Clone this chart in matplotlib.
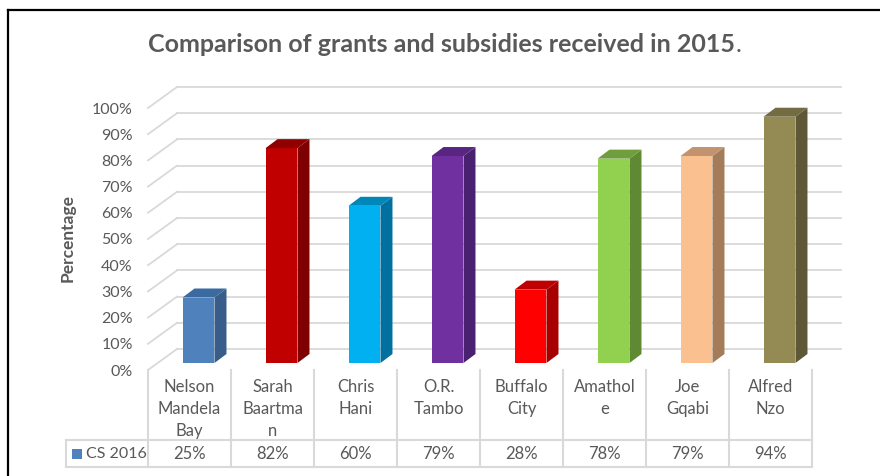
import matplotlib
matplotlib.use("Agg")
import matplotlib.pyplot as plt
import matplotlib.transforms as mtransforms
from matplotlib.patches import Polygon, Rectangle
from matplotlib.lines import Line2D

plt.rcParams['font.family'] = ['Lato', 'DejaVu Sans']

# ---------------- data ----------------
categories = ["Nelson\nMandela\nBay", "Sarah\nBaartma\nn", "Chris\nHani", "O.R.\nTambo",
              "Buffalo\nCity", "Amathol\ne", "Joe\nGqabi", "Alfred\nNzo"]
values = [0.25, 0.82, 0.60, 0.79, 0.28, 0.78, 0.79, 0.94]
series_name = "CS 2016"
yticks = [0.0, 0.1, 0.2, 0.3, 0.4, 0.5, 0.6, 0.7, 0.8, 0.9, 1.0]
ytick_labels = ["0%", "10%", "20%", "30%", "40%", "50%", "60%", "70%", "80%", "90%", "100%"]
front_colors = ["#4f81bd", "#c00000", "#00b0f0", "#7030a0", "#ff0000", "#92d050", "#fac090", "#948a54"]
side_colors = ["#385d8a", "#7f0000", "#0070a0", "#4a2070", "#a80000", "#5f8a33", "#a47c5a", "#5f5836"]
top_colors = ["#3b6aa0", "#900000", "#0086b8", "#582680", "#c00000", "#6f9e3c", "#c39370", "#736b42"]
legend_color = "#4f81bd"

W, H = 880, 476
DPI = 100
TXT = "#595959"
GRID = "#d9d9d9"

fig = plt.figure(figsize=(W / DPI, H / DPI), dpi=DPI)
fig.patch.set_facecolor("white")

# axes = front plane of the 3D box
ax_left, ax_right = 148, 812
ax_bottom_top, ax_top_top = 370, 108  # pixel rows from top
ax = fig.add_axes([ax_left / W, (H - ax_bottom_top) / H, (ax_right - ax_left) / W,
                   (ax_bottom_top - ax_top_top) / H])
n = len(categories)
ax.set_xlim(-0.5, n - 0.5)
ax.set_ylim(0, 1)
ax.patch.set_alpha(0)
for s in ax.spines.values():
    s.set_visible(False)
ax.set_xticks([])
ax.set_yticks(yticks)
ax.set_yticklabels(ytick_labels, color=TXT, fontsize=11.5)
ax.tick_params(axis='y', length=0, pad=11)

# pixel transform (y measured from top)
pix = mtransforms.Affine2D().scale(1, -1).translate(0, H)

def off(dx, dy):
    return mtransforms.offset_copy(ax.transData, fig=fig, x=dx, y=dy, units='dots')

# back wall offset
BDX, BDY = 29, 21
back = off(BDX, BDY)
for t in yticks:
    ax.add_line(Line2D([-0.5, n - 0.5], [t, t], transform=back, color=GRID, lw=1.3, clip_on=False, zorder=1))
    # diagonal from front left to back wall
    p0 = ax.transData.transform((-0.5, t))
    ax.add_line(Line2D([p0[0], p0[0] + BDX], [p0[1], p0[1] + BDY], transform=mtransforms.IdentityTransform(),
                       color=GRID, lw=1.3, clip_on=False, zorder=1))

# bars
FDX, FDY = 9, 7      # front face offset
DDX, DDY = 12, 9     # bar depth
sx = ax.transData.transform((1, 0))[0] - ax.transData.transform((0, 0))[0]
sy = ax.transData.transform((0, 1))[1] - ax.transData.transform((0, 0))[1]
ddx, ddy = DDX / sx, DDY / sy
front = off(FDX, FDY)
bw = 0.385
ax.bar(range(n), values, width=bw, color=front_colors, transform=front, zorder=3, clip_on=False)
for i, v in enumerate(values):
    xl, xr = i - bw / 2, i + bw / 2
    ax.add_patch(Polygon([(xr, 0), (xr, v), (xr + ddx, v + ddy), (xr + ddx, ddy)], closed=True,
                         facecolor=side_colors[i], edgecolor='none', transform=front, zorder=3, clip_on=False))
    ax.add_patch(Polygon([(xl, v), (xr, v), (xr + ddx, v + ddy), (xl + ddx, v + ddy)], closed=True,
                         facecolor=top_colors[i], edgecolor='none', transform=front, zorder=3, clip_on=False))

# data table
xpix = mtransforms.blended_transform_factory(ax.transData, pix)
row1_top, row2_top, row2_bot = 370, 440, 467
legend_left = 66
TL = 1.5
for b in [i - 0.5 for i in range(n + 1)]:
    ax.add_line(Line2D([b, b], [row1_top, row2_bot], transform=xpix, color=GRID, lw=TL, clip_on=False))
fig.add_artist(Line2D([legend_left, ax_right], [row2_top, row2_top], transform=pix, color=GRID, lw=TL))
fig.add_artist(Line2D([legend_left, ax_right], [row2_bot, row2_bot], transform=pix, color=GRID, lw=TL))
fig.add_artist(Line2D([legend_left, legend_left], [row2_top, row2_bot], transform=pix, color=GRID, lw=TL))

for i, c in enumerate(categories):
    ax.text(i, 379, c, transform=xpix, ha='center', va='top', fontsize=12, color=TXT,
            linespacing=1.47, clip_on=False)
    ax.text(i, 454, f"{round(values[i] * 100)}%", transform=xpix, ha='center', va='center',
            fontsize=12, color=TXT, clip_on=False)

fig.add_artist(Rectangle((72, 459), 10, -10, transform=pix, facecolor=legend_color, edgecolor='none'))
fig.text(86, 454, series_name, transform=pix, ha='left', va='center', fontsize=11.5, color=TXT)

# axis title
fig.text(68, 238, "Percentage", transform=pix, rotation=90, ha='center', va='center',
         fontsize=12.5, fontweight='bold', color=TXT)

# chart title
t1 = fig.text(148, 45, "Comparison of grants and subsidies received in 2015", transform=pix,
              ha='left', va='center', fontsize=18, fontweight='bold', color=TXT)
fig.canvas.draw()
bb = t1.get_window_extent()
fig.text(bb.x1 + 1, H - 45, ".", transform=mtransforms.IdentityTransform(), ha='left', va='center',
         fontsize=18, color=TXT)

# outer border (left and top visible)
fig.add_artist(Line2D([8, 8], [10, H], transform=pix, color='black', lw=1.6))
fig.add_artist(Line2D([8, W], [10, 10], transform=pix, color='black', lw=1.6))

fig.savefig("out.png", dpi=DPI)
